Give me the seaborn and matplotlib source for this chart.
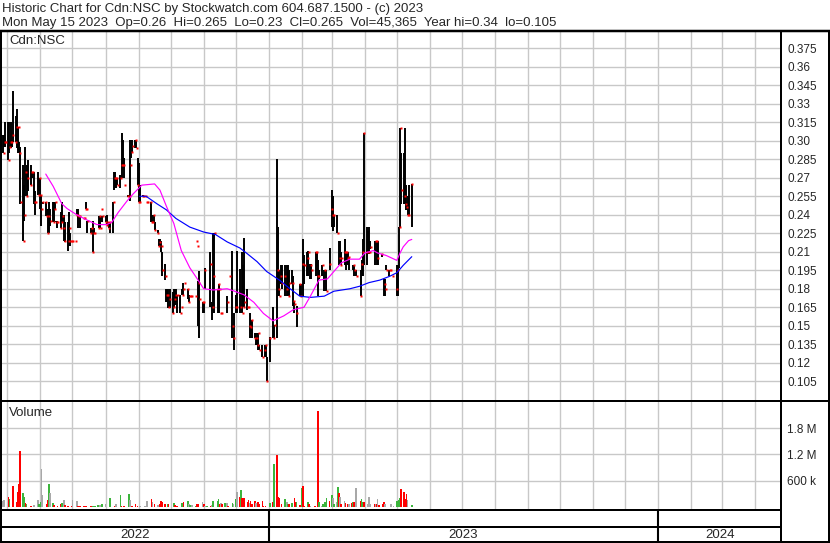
import matplotlib
matplotlib.use("Agg")
import matplotlib.pyplot as plt
import matplotlib.dates as mdates
from matplotlib.lines import Line2D
import numpy as np
import pandas as pd
import seaborn as sns

W, H = 830, 543

titulo = "Historic Chart for Cdn:NSC by Stockwatch.com 604.687.1500 - (c) 2023"
resumen = ("Mon May 15 2023  Op=0.26  Hi=0.265  Lo=0.23  Cl=0.265  "
           "Vol=45,365  Year hi=0.34  lo=0.105")
simbolo = "Cdn:NSC"

# dias habiles desde 2022-04-27 hasta 2023-05-15; precios en milesimas de $
bar_idx = list(range(0, 136)) + [
    138, 140, 141, 142, 143, 144, 145, 146, 147, 150,
    152, 153, 154, 156, 157, 158, 160, 161, 162, 163,
    164, 165, 166, 167, 168, 169, 170, 171, 172, 173,
    175, 176, 177, 178,
    181, 182, 183, 184, 185, 186, 187, 188, 190, 191,
    192, 193, 194, 195, 197, 198, 199, 201, 202, 203,
    204, 206, 207, 209, 210, 211, 212, 213, 215, 217,
    218, 220, 221, 222, 223, 225, 226, 227, 228, 229,
    230, 231, 232, 234, 235, 237, 239, 240, 241, 242,
    243, 244, 245, 246, 249, 250, 251, 253, 255, 256,
    257, 258, 259, 261, 263, 264, 265, 266, 267, 268,
    269, 270, 271, 272, 273]
bar_hi = [
    305, 305, 315, 315, 315, 315, 299, 340, 320, 326, 311, 299, 295, 280, 264, 295, 280, 284, 280, 275,
    275, 275, 259, 275, 270, 270, 256, 250, 250, 245, 245, 250, 245, 250, 250, 250, 235, 235, 242, 250,
    240, 240, 234, 234, 242, 225, 219, 219, 219, 245, 245, 239, 239, 237, 237, 245, 250, 235, 229, 229,
    235, 229, 225, 229, 239, 239, 245, 239, 239,
    240, 234, 234, 234, 250, 275, 275, 270, 270, 272, 306, 301, 286, 264, 256, 255, 301, 291, 301, 301,
    300, 286, 282, 264, 256, 255, 255, 250, 250, 250, 250, 240, 240, 234, 228, 220, 220, 219, 210, 200,
    180, 180, 180, 180, 177, 180, 180, 180, 175, 175, 165, 180, 185, 185, 180, 175, 174, 174, 174, 174,
    219, 215, 186, 194, 169, 169, 197,
    210, 169, 225, 225, 180, 184, 180, 160, 160, 174, 190, 211, 160, 175, 211, 196, 210, 199, 221, 180,
    165, 160, 155, 155, 144, 144, 140, 144, 134, 134, 134, 134, 125, 141,
    165, 151, 285, 230, 195, 199, 199, 199, 199, 199, 195, 195, 190, 170, 166, 184, 184, 220, 207, 210,
    211, 200, 200, 210, 210, 203, 195, 199, 195, 195, 213, 260, 255, 240, 240, 219, 219, 210, 220, 210,
    210, 210, 206, 199, 199, 195, 195, 203, 220, 306, 230, 227, 230, 219, 219, 219, 219, 208, 188, 188,
    199, 195, 195, 190, 199, 199, 230, 310, 290, 290, 310, 264, 255, 264, 265]
bar_lo = [
    290, 295, 295, 284, 290, 294, 295, 299, 299, 294, 290, 290, 249, 219, 235, 255, 255, 259, 264, 270,
    275, 249, 240, 256, 259, 245, 231, 249, 239, 239, 225, 225, 231, 234, 234, 245, 234, 229, 229, 234,
    239, 219, 218, 211, 215, 215, 219, 219, 219, 240, 229, 239, 229, 237, 237, 245, 245, 225, 225, 229,
    210, 225, 225, 229, 229, 229, 245, 234, 234,
    232, 232, 229, 225, 225, 260, 262, 262, 264, 262, 270, 280, 270, 264, 254, 255, 251, 286, 291, 294,
    294, 264, 250, 250, 255, 255, 255, 250, 250, 250, 234, 234, 234, 228, 225, 215, 215, 210, 190, 187,
    169, 169, 164, 164, 160, 165, 167, 169, 160, 160, 165, 175, 175, 185, 172, 169, 174, 174, 174, 174,
    219, 215, 150, 140, 160, 160, 180,
    165, 155, 165, 160, 160, 160, 179, 160, 160, 160, 190, 140, 130, 160, 160, 160, 160, 165, 165, 163,
    165, 140, 149, 140, 140, 134, 134, 130, 130, 125, 125, 125, 105, 121,
    140, 140, 140, 174, 174, 184, 180, 174, 174, 174, 174, 184, 166, 160, 149, 174, 174, 174, 184, 190,
    190, 188, 188, 190, 195, 174, 188, 190, 178, 178, 195, 230, 227, 230, 225, 199, 199, 199, 199, 195,
    200, 199, 195, 195, 190, 190, 174, 190, 190, 199, 199, 208, 208, 212, 199, 199, 199, 206, 174, 174,
    195, 190, 195, 190, 174, 174, 197, 230, 249, 249, 249, 244, 240, 240, 230]
bar_cl = [
    290, 299, 299, 284, 295, 299, 299, 305, 299, 311, 311, 290, 250, 219, 240, 275, 255, 270, 264, 275,
    275, 250, 250, 256, 270, 256, 245, 250, 250, 239, 225, 239, 235, 234, 245, 250, 234, 234, 229, 234,
    239, 229, 219, 219, 229, 219, 219, 219, 219, 240, 240, 239, 239, 237, 237, 245, 245, 235, 225, 229,
    210, 225, 225, 229, 239, 229, 245, 239, 234,
    232, 234, 229, 234, 250, 270, 270, 270, 264, 270, 280, 280, 280, 264, 255, 255, 280, 291, 296, 301,
    294, 264, 250, 250, 255, 255, 255, 250, 250, 250, 234, 234, 240, 228, 225, 215, 218, 215, 195, 190,
    175, 175, 165, 172, 160, 165, 172, 175, 175, 160, 165, 175, 180, 185, 180, 169, 174, 174, 174, 174,
    219, 215, 185, 172, 169, 169, 195,
    200, 165, 190, 225, 180, 184, 180, 160, 160, 169, 190, 150, 140, 165, 165, 165, 160, 165, 169, 165,
    165, 150, 149, 155, 140, 140, 134, 144, 130, 125, 130, 134, 105, 140,
    140, 151, 195, 180, 174, 190, 185, 190, 180, 174, 185, 185, 170, 168, 160, 184, 174, 200, 199, 205,
    210, 199, 195, 210, 210, 190, 190, 199, 195, 178, 200, 245, 240, 240, 225, 205, 199, 205, 210, 210,
    210, 205, 206, 199, 195, 190, 174, 200, 210, 306, 210, 210, 210, 214, 219, 219, 205, 208, 184, 180,
    195, 195, 195, 190, 180, 195, 230, 310, 260, 255, 249, 246, 240, 240, 265]

# medias moviles
ma_rosa_fechas = [
    "2022-06-06", "2022-06-13", "2022-06-21", "2022-06-26", "2022-07-05", "2022-07-14", "2022-07-24",
    "2022-08-02", "2022-08-07", "2022-08-13", "2022-08-21", "2022-08-27", "2022-09-04", "2022-09-16",
    "2022-09-21", "2022-09-27", "2022-10-04", "2022-10-11", "2022-10-19", "2022-10-26", "2022-11-01",
    "2022-11-10", "2022-11-23", "2022-11-30", "2022-12-09", "2022-12-18", "2022-12-27", "2023-01-05",
    "2023-01-15", "2023-01-24", "2023-02-03", "2023-02-09", "2023-02-17", "2023-02-25", "2023-03-03",
    "2023-03-10", "2023-03-18", "2023-03-27", "2023-04-01", "2023-04-09", "2023-04-13", "2023-04-21",
    "2023-05-01", "2023-05-04", "2023-05-07", "2023-05-12", "2023-05-15"]
ma_rosa = [
    .273, .263, .249, .245, .240, .236, .232, .232, .234, .242, .251, .257, .264, .265, .260, .247,
    .233, .211, .197, .188, .180, .179, .180, .178, .175, .169, .160, .154, .158, .163, .165, .174,
    .187, .188, .194, .201, .204, .204, .209, .211, .209, .207, .203, .209, .214, .219, .220]
ma_azul_fechas = [
    "2022-09-02", "2022-09-08", "2022-09-18", "2022-09-27", "2022-10-06", "2022-10-19", "2022-11-01",
    "2022-11-12", "2022-11-23", "2022-12-05", "2022-12-11", "2022-12-21", "2022-12-30", "2023-01-11",
    "2023-01-21", "2023-01-30", "2023-02-09", "2023-02-22", "2023-03-03", "2023-03-18", "2023-03-27",
    "2023-04-05", "2023-04-15", "2023-04-24", "2023-05-01", "2023-05-07", "2023-05-15"]
ma_azul = [
    .255, .255, .249, .244, .237, .230, .226, .224, .218, .213, .209, .202, .194, .187, .180, .174,
    .173, .174, .178, .180, .182, .185, .187, .190, .193, .199, .206]

# volumen en miles; color r=baja g=sube k=sin cambio
vol_idx = [
    0, 1, 3, 4, 7, 9, 10, 11, 12, 13, 14, 15, 16, 18, 21, 23, 24, 25, 26, 27,
    29, 30, 31, 32, 33, 34, 37, 38, 39, 40, 41, 42, 43, 46, 47, 49, 50, 52, 54, 56,
    58, 59, 60, 61, 62, 63, 65, 67, 68, 72, 75, 76, 78, 79, 81, 84, 85, 87, 88, 90,
    92, 95, 97, 99, 100, 102, 103, 105, 106, 107, 108, 110, 111, 114, 115, 117, 120, 121, 123, 124,
    125, 127, 129, 130, 131, 133, 134, 135, 137, 139, 140, 141, 143, 144, 145, 146, 147, 148, 150, 151,
    153, 154, 156, 157, 158, 159, 160, 162, 163, 164, 165, 166, 167, 168, 169, 171, 172, 173, 174, 176,
    178, 181, 182, 183, 184, 185, 187, 188, 190, 191, 192, 193, 195, 196, 197, 198, 200, 201, 202, 204,
    205, 206, 208, 211, 212, 213, 214, 215, 216, 217, 218, 220, 221, 222, 223, 224, 225, 226, 227, 228,
    229, 231, 232, 233, 234, 235, 237, 239, 240, 241, 242, 244, 245, 246, 248, 249, 250, 251, 252, 254,
    255, 256, 259, 260, 262, 263, 265, 266, 267, 268, 269, 270, 271, 273]
vol_k = [
    138, 160, 222, 176, 489, 107, 336, 520, 1280, 313, 222, 84, 61, 31, 46, 160, 61, 122, 871, 275,
    61, 160, 520, 313, 84, 46, 31, 61, 84, 84, 160, 46, 31, 23, 160, 138, 31, 23, 23, 23,
    23, 31, 31, 31, 31, 46, 46, 61, 61, 199, 31, 61, 267, 31, 31, 290, 160, 31, 61, 31,
    31, 31, 138, 183, 122, 61, 46, 61, 138, 107, 61, 61, 61, 84, 46, 31, 84, 107, 138, 61,
    46, 46, 31, 61, 76, 122, 61, 31, 31, 31, 46, 138, 138, 183, 61, 84, 61, 84, 84, 31,
    84, 61, 183, 336, 237, 390, 214, 214, 122, 160, 84, 138, 61, 138, 84, 122, 61, 138, 31, 31,
    84, 107, 978, 1180, 237, 199, 61, 183, 107, 61, 61, 92, 199, 107, 107, 46, 428, 489, 31, 122,
    61, 31, 31, 2200, 107, 31, 61, 31, 107, 199, 138, 275, 214, 61, 107, 466, 329, 222, 61, 138,
    84, 61, 61, 84, 107, 122, 443, 138, 183, 107, 107, 76, 222, 76, 61, 61, 61, 176, 46, 61,
    122, 61, 76, 61, 31, 138, 153, 214, 405, 351, 176, 290, 160, 45]
vol_col = list(
    "kkrgrrrrrg" "grgrkkggkk" "rrgkgrrrgg" "krrrkkrrrr" "rrggggkgkg"
    "rkgrrgkrrr" "kkkrkrkrrr" "rgrgrrgrgk" "gkgrrkrkgr" "kgggrkrgkr"
    "gkgkrgrrrr" "krrrkrrrrr" "grgrrrrgkg" "rgrrgrgrrg" "rkrrgkgggg"
    "rgkgkgrkrk" "rrkrgrkrgg" "rkkkrkrkrr" "rkkkkgggrr" "rrkg")

precio_ticks = [0.105, 0.12, 0.135, 0.15, 0.165, 0.18, 0.195, 0.21, 0.225, 0.24,
                0.255, 0.27, 0.285, 0.30, 0.315, 0.33, 0.345, 0.36, 0.375]
precio_etiquetas = ["0.105", "0.12", "0.135", "0.15", "0.165", "0.18", "0.195", "0.21", "0.225",
                    "0.24", "0.255", "0.27", "0.285", "0.30", "0.315", "0.33", "0.345", "0.36",
                    "0.375"]
vol_ticks = [600000, 1200000, 1800000]
vol_etiquetas = ["600 k", "1.2 M", "1.8 M"]
anios = [2022, 2023, 2024]

sns.set_style("white")
plt.rcParams["font.family"] = ["Liberation Sans", "DejaVu Sans"]
fuente_ejes = ["Liberation Sans Narrow", "Liberation Sans", "DejaVu Sans"]
gris = "#c8c8c8"


def caja(y0, y1):
    return [2 / W, 1 - y1 / H, 779 / W, (y1 - y0) / H]


def linea(fig, x0, y0, x1, y1, lw=2.0):
    fig.add_artist(Line2D([x0 / W, x1 / W], [1 - y0 / H, 1 - y1 / H],
                          transform=fig.transFigure, color="black", lw=lw * 0.72,
                          solid_capstyle="butt"))


dias = pd.bdate_range("2022-04-27", "2023-05-15")
x0, x1 = pd.Timestamp("2022-04-26"), pd.Timestamp("2024-04-25")

fig = plt.figure(figsize=(W / 100, H / 100), dpi=100)
ax_p = fig.add_axes(caja(31, 400))
ax_v = fig.add_axes(caja(402, 509), sharex=ax_p)
ax_d = fig.add_axes(caja(510, 541), sharex=ax_p)

# precios: barra alto-bajo negra y cierre en rojo
fechas = dias[bar_idx]
hi = np.array(bar_hi) / 1000
lo = np.array(bar_lo) / 1000
cl = np.array(bar_cl) / 1000
ax_p.vlines(fechas, lo, hi, color="black", lw=1.4, zorder=3)
ax_p.plot(fechas + pd.Timedelta(hours=12), cl, "s", color="red", ms=1.6, mec="none", zorder=4)
sns.lineplot(x=pd.to_datetime(ma_azul_fechas), y=ma_azul, ax=ax_p, color="#0000ff",
             lw=0.85, zorder=5)
sns.lineplot(x=pd.to_datetime(ma_rosa_fechas), y=ma_rosa, ax=ax_p, color="#ff00ff",
             lw=0.85, zorder=5)
ax_p.set_ylim(0.0898, 0.389)
ax_p.set_yticks(precio_ticks)
ax_p.set_yticklabels(precio_etiquetas)

# volumen
colores = {"r": "#ff0000", "g": "#3cb43c", "k": "#a8a8a8"}
ax_v.bar(dias[vol_idx], np.array(vol_k) * 1000, width=1.6,
         color=[colores[c] for c in vol_col], lw=0, zorder=3)
ax_v.set_ylim(-48000, 2402000)
ax_v.set_yticks(vol_ticks)
ax_v.set_yticklabels(vol_etiquetas)

for ax in (ax_p, ax_v):
    ax.set_xlim(x0, x1)
    ax.xaxis.set_major_locator(mdates.MonthLocator())
    ax.grid(True, color=gris, lw=1.0, zorder=0)
    ax.yaxis.tick_right()
    ax.tick_params(axis="y", length=0, pad=4.5, labelsize=8.5,
                   labelfontfamily=fuente_ejes)
    ax.tick_params(axis="x", length=0, labelbottom=False)
    ax.set_xlabel("")
    ax.set_ylabel("")
    for s in ax.spines.values():
        s.set_visible(False)

# franja de anios
ax_d.grid(False)
ax_d.set_yticks([])
ax_d.tick_params(axis="x", length=0, labelbottom=False)
for s in ax_d.spines.values():
    s.set_visible(False)
for a in anios:
    ini = max(pd.Timestamp(f"{a}-01-01"), x0)
    fin = min(pd.Timestamp(f"{a + 1}-01-01"), x1)
    ax_d.text(ini + (fin - ini) / 2, 0.2, str(a), transform=ax_d.get_xaxis_transform(),
              ha="center", va="center", fontsize=9.5)
    if a > 2022:
        ax_d.axvline(pd.Timestamp(f"{a}-01-01"), color="black", lw=1.5)

# textos
fig.text(2 / W, 1 - 9 / H, titulo, ha="left", va="center", fontsize=9.5)
fig.text(2 / W, 1 - 23 / H, resumen, ha="left", va="center", fontsize=9.5)
fig.text(9 / W, 1 - 41 / H, simbolo, ha="left", va="center", fontsize=9.5)
fig.text(9 / W, 1 - 413 / H, "Volume", ha="left", va="center", fontsize=9.5)

# marco
linea(fig, 0, 30.5, W, 30.5, 2.5)
linea(fig, 0, 401, W, 401)
linea(fig, 0, 510, 782, 510)
linea(fig, 0, 527, 782, 527)
linea(fig, 0, 541.7, W, 541.7)
linea(fig, 1, 30, 1, 542.5)
linea(fig, 781, 30, 781, 542.5)
linea(fig, 828.5, 30, 828.5, 542.5)

fig.savefig("out.png", dpi=100)
